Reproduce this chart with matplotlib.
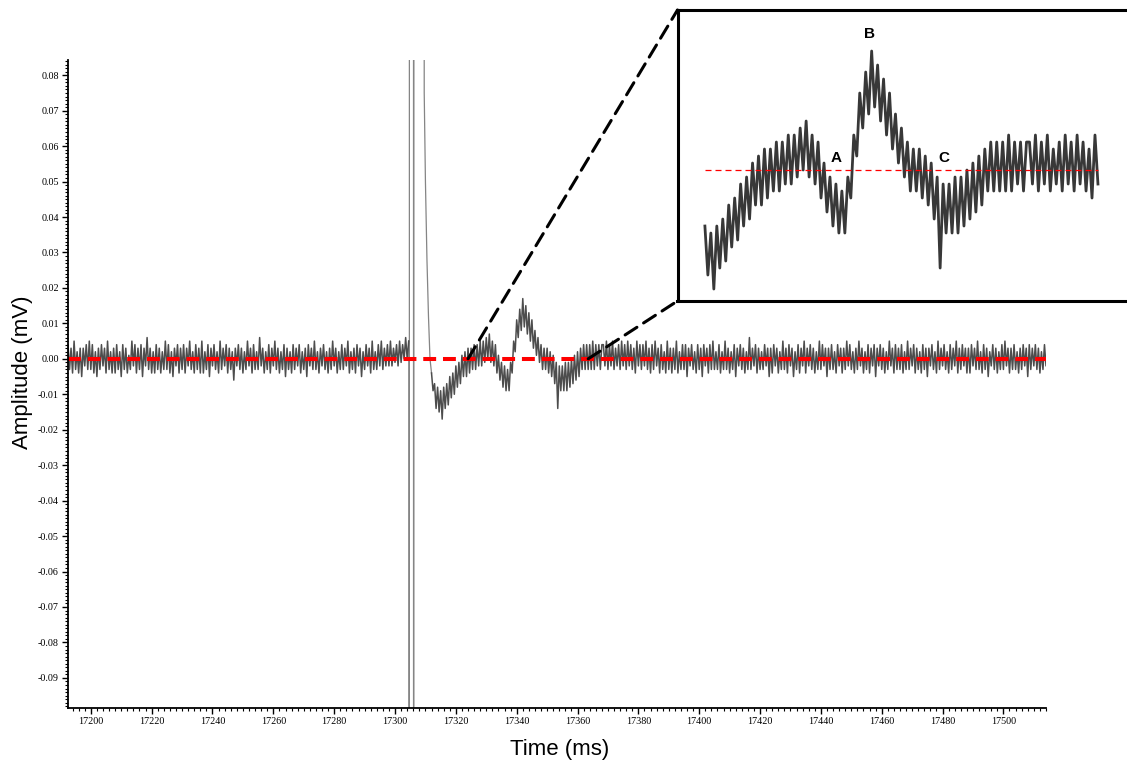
import numpy as np
import matplotlib
matplotlib.use('Agg')
import matplotlib.pyplot as plt
from matplotlib.ticker import MultipleLocator, FuncFormatter
from matplotlib.patches import ConnectionPatch

plt.rcParams['font.family'] = 'Liberation Serif'

# trace samples, 0.5 ms apart, in uV (= mV / 1000)
step = 0.5
pre_start = 17192.5
pre_uv = [
    4, -3, 3, -4, 5, -3, 2, -4, 3, -5, 3, -2, 4, -3, 5,
    -3, 4, -4, 2, -5, 3, -3, 4, -2, 3, -4, 5, -3, 2, -4,
    3, -4, 4, -3, 2, -5, 4, -3, 3, -4, 1, -3, 5, -2, 4,
    -4, 3, -3, 4, -5, 3, -2, 6, -3, 3, -4, 2, -4, 4, -3,
    3, -4, 2, -3, 5, -3, 4, -4, 2, -5, 3, -2, 4, -4, 3,
    -3, 4, -4, 3, -2, 5, -3, 2, -4, 4, -3, 3, -4, 5, -4,
    2, -3, 4, -5, 3, -2, 4, -3, 2, -4, 5, -3, 3, -2, 4,
    -4, 3, -3, 2, -6, 3, -2, 4, -3, 3, -4, 2, -3, 5, -2,
    3, -4, 4, -3, 2, -3, 6, -2, 3, -4, 2, -3, 4, -4, 3,
    -2, 5, -3, 3, -4, 2, -3, 4, -5, 3, -3, 2, -4, 4, -3,
    3, -2, 4, -4, 2, -3, 3, -5, 4, -2, 3, -3, 5, -3, 2,
    -4, 3, -2, 4, -3, 2, -4, 3, -3, 5, -2, 3, -4, 2, -3,
    4, -3, 3, -2, 5, -4, 2, -3, 3, -4, 4, -2, 3, -5, 2,
    -3, 4, -2, 3, -4, 5, -3, 2, -3, 4, -2, 5, -3, 3, -2,
    4, -2, 5, -2, 3, -1, 4, -2, 5, -1, 4, 0, 6, 0, 5,
]

# stimulus artifact (goes off scale)
artifact_t = [17304.5, 17304.6, 17304.68, 17304.76, 17306.05, 17306.12, 17306.2,
              17309.45, 17309.6, 17310.0, 17310.5, 17311.0, 17311.5, 17312.0]
artifact_mv = [0.005, 0.002, -1.0, 1.0, 1.0, -1.0, 1.0,
               1.0, 0.075, 0.05, 0.028, 0.012, 0.0, -0.004]

erp_start = 17312.0
erp_uv = [
    -4, -9, -7, -14, -8, -15, -9, -17, -8, -14, -7, -13, -5, -11, -4,
    -10, -2, -8, -1, -7, 1, -5, 2, -5, 3, -4, 3, -3, 4, -3,
    4, -2, 5, -2, 5, -1, 6, 0, 7, -1, 5, -2, 4, -4, 1,
    -6, -1, -8, -2, -9, -3, -9, -1, -4, 5, 2, 11, 6, 14, 8,
    17, 9, 15, 7, 13, 5, 11, 3, 8, 1, 6, -1, 4, -3, 3,
    -3, 3, -4, 2, -5, 1, -7, -1, -14, -2, -9, -2, -9, -1, -9,
    -1, -8, 0, -7, 1, -6, 2, -5, 3, -3, 4, -3, 4, -3, 4,
    -3, 5, -3, 4, -2, 4, -3, 4,
]

post_start = 17368.5
post_uv = [
    4, -2, 5, -3, 4, -2, 5, -3, 3, -2, 4, -3, 5, -2, 4,
    -3, 5, -2, 4, -3, 3, -4, 5, -2, 4, -3, 4, -2, 5, -3,
    3, -4, 4, -3, 5, -2, 3, -4, 4, -3, 2, -4, 5, -3, 3,
    -4, 3, -3, 5, -4, 2, -3, 4, -3, 4, -5, 3, -2, 4, -3,
    2, -4, 4, -3, 3, -5, 4, -2, 3, -4, 4, -3, 5, -3, 2,
    -3, 4, -4, 2, -3, 5, -3, 3, -4, 2, -3, 4, -5, 3, -2,
    4, -3, 3, -4, 2, -3, 6, -3, 3, -2, 4, -4, 3, -3, 2,
    -3, 4, -2, 3, -5, 3, -4, 4, -2, 3, -4, 2, -3, 5, -3,
    3, -4, 4, -2, 3, -5, 2, -3, 4, -4, 3, -2, 5, -4, 3,
    -2, 4, -3, 3, -4, 2, -3, 5, -3, 4, -2, 3, -5, 3, -3,
    4, -3, 2, -4, 4, -2, 3, -4, 3, -3, 5, -2, 4, -3, 2,
    -4, 3, -3, 5, -2, 3, -4, 2, -3, 4, -4, 3, -2, 4, -5,
    3, -2, 4, -3, 3, -4, 2, -3, 5, -2, 3, -4, 4, -3, 3,
    -3, 4, -4, 2, -3, 5, -3, 3, -2, 4, -4, 3, -3, 2, -4,
    4, -3, 3, -5, 3, -2, 4, -3, 2, -4, 5, -3, 3, -2, 4,
    -3, 2, -4, 4, -3, 3, -2, 5, -4, 3, -3, 4, -2, 3, -4,
    3, -4, 4, -2, 3, -3, 5, -3, 2, -4, 4, -3, 3, -5, 2,
    -2, 4, -3, 3, -4, 2, -3, 4, -3, 5, -2, 3, -4, 3, -3,
    4, -3, 2, -4, 3, -3, 4, -2, 3, -5, 4, -3, 3, -2, 4,
    -3, 3, -4, 2, -3, 4, -2, 3, -4, 5, -3, 2, -4, 3, -2,
]

inset_window = (17314.0, 17380.0)
zoom_from = (17324.0, 17363.5)
peak_labels = ['A', 'B', 'C']
peak_t = [17336.0, 17341.7, 17354.1]
peak_mv = [0.0017, 0.0194, 0.0017]

pre_t = pre_start + step * np.arange(len(pre_uv))
rest_t = np.concatenate([erp_start + step * np.arange(len(erp_uv)),
                         post_start + step * np.arange(len(post_uv))])
rest_v = np.concatenate([np.array(erp_uv) / 1000, np.array(post_uv) / 1000])

W, H = 1127, 763
fig = plt.figure(figsize=(W / 100, H / 100), dpi=100)
ax = fig.add_axes([68 / W, 55 / H, 978 / W, 648 / H])

ax.plot(artifact_t, artifact_mv, color='#858585', lw=0.9)
ax.plot(pre_t, np.array(pre_uv) / 1000, color='#4d4d4d', lw=1.1)
ax.plot(rest_t, rest_v, color='#4d4d4d', lw=1.1)
ax.axhline(0, color='red', lw=2.9, ls=(0, (3.2, 1.7)))

ax.set_xlim(17192.5, 17514)
ax.set_ylim(-0.0985, 0.0843)
ax.spines['top'].set_visible(False)
ax.spines['right'].set_visible(False)
for s in ['left', 'bottom']:
    ax.spines[s].set_linewidth(1.3)

ax.xaxis.set_major_locator(MultipleLocator(20))
ax.xaxis.set_minor_locator(MultipleLocator(2))
ax.yaxis.set_major_locator(MultipleLocator(0.01))
ax.yaxis.set_minor_locator(MultipleLocator(0.001))


def fmt_y(val, pos):
    s = f"{val:.2f}"
    return "0.00" if s == "-0.00" else s


ax.yaxis.set_major_formatter(FuncFormatter(fmt_y))
ax.xaxis.set_major_formatter(FuncFormatter(lambda val, pos: f"{val:.0f}"))
ax.tick_params(which='major', length=4.2, width=1, labelsize=7.3, pad=2.3)
ax.tick_params(which='minor', length=2.4, width=0.8)

fig.text(23 / W, 1 - 372 / H, 'Amplitude (mV)', rotation=90, ha='center',
         va='center', fontsize=16, family='Liberation Sans')
fig.text(560 / W, 1 - 750 / H, 'Time (ms)', ha='center', va='center',
         fontsize=16, family='Liberation Sans')

# zoomed inset
ax_in = fig.add_axes([677.5 / W, (H - 301) / H, 455 / W, 291 / H])
m = (rest_t >= inset_window[0]) & (rest_t <= inset_window[1])
ax_in.plot(rest_t[m], rest_v[m], color='#383838', lw=2.0)
ax_in.hlines(0, inset_window[0], inset_window[1], color='red', lw=0.9,
             linestyles=(0, (4.8, 3.2)))
for lab, x, y in zip(peak_labels, peak_t, peak_mv):
    ax_in.text(x, y, lab, ha='center', va='center', fontsize=11,
               fontweight='bold', family='Liberation Sans')
ax_in.set_xlim(17309.4, 17385.8)
ax_in.set_ylim(-0.01871, 0.02286)
ax_in.set_xticks([])
ax_in.set_yticks([])
for s in ax_in.spines.values():
    s.set_linewidth(2.2)

for x0, corner in zip(zoom_from, [(0, 1), (0, 0)]):
    con = ConnectionPatch(xyA=(x0, 0), coordsA=ax.transData,
                          xyB=corner, coordsB=ax_in.transAxes,
                          color='black', lw=2.2, ls=(0, (4.6, 2.6)))
    fig.add_artist(con)

fig.savefig('out.png', dpi=100)
